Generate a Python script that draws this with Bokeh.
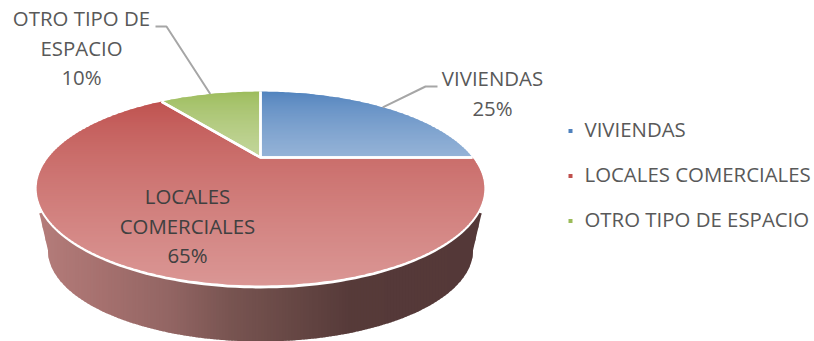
import math
from bokeh.plotting import figure
from bokeh.core.properties import value
from bokeh.embed import file_html
from bokeh.resources import INLINE

categories = ["VIVIENDAS", "LOCALES COMERCIALES", "OTRO TIPO DE ESPACIO"]
shares = [25, 65, 10]
label_lines = [["VIVIENDAS", "25%"], ["LOCALES", "COMERCIALES", "65%"], ["OTRO TIPO DE", "ESPACIO", "10%"]]
label_centers = [(492, 77.5), (187, 195.5), (81, 17.5)]
line_gap = 29.5
top_colors = [(79, 129, 189), (190, 79, 76), (155, 187, 89)]
bottom_colors = [(149, 179, 215), (218, 150, 148), (195, 214, 155)]
legend_colors = ["#4F81BD", "#C0504D", "#9BBB59"]
legend_y = [128.5, 173.5, 218.5]
marker_y = [130.5, 175.5, 220.5]
side_stops = [(39, (180, 124, 122)), (100, (166, 113, 111)), (170, (146, 101, 99)), (230, (120, 84, 81)),
              (280, (106, 74, 71)), (350, (86, 58, 57)), (480, (84, 56, 56))]
FONT = "Open Sans"
TEXT_SIZE = "20.4px"

# perspective projection of the pie disc on to the page
CX, CY, RU, AV, K = 260.0, 157.0, 212.0, 87.0, -0.32


def project(u, v):
    w = 1 + K * v
    return CX + RU * u / w, CY + AV * v / w


def rim(a0, a1, n):
    """Angles clockwise from 12 o'clock, degrees."""
    pts = []
    for i in range(n + 1):
        a = math.radians(a0 + (a1 - a0) * i / n)
        pts.append(project(math.sin(a), -math.cos(a)))
    return pts


def clip(poly, axis, lo, hi):
    def cut(pts, keep, bound):
        out = []
        for i, p in enumerate(pts):
            q = pts[(i + 1) % len(pts)]
            kp, kq = keep(p[axis]), keep(q[axis])
            if kp:
                out.append(p)
            if kp != kq:
                t = (bound - p[axis]) / (q[axis] - p[axis])
                out.append((p[0] + t * (q[0] - p[0]), p[1] + t * (q[1] - p[1])))
        return out
    r = cut(poly, lambda c: c >= lo, lo)
    return cut(r, lambda c: c <= hi, hi) if r else r


def mix(c0, c1, t):
    t = max(0.0, min(1.0, t))
    return "#%02x%02x%02x" % tuple(int(round(a + (b - a) * t)) for a, b in zip(c0, c1))


p = figure(width=814, height=341, x_range=(0, 814), y_range=(341, 0), output_backend="svg",
           toolbar_location=None, min_border=0, outline_line_color=None, background_fill_color="white")
p.styles = {"position": "absolute", "top": "0px", "left": "0px"}
p.axis.visible = False
p.grid.visible = False

# side wall
DEPTH_CY, DEPTH_RX, DEPTH_RY = 250.0, 212.5, 91.0
upper = [pt for pt in rim(90, 270, 240) if pt[1] >= 211]
lower = []
for i in range(121):
    a = math.pi * i / 120
    lower.append((CX + DEPTH_RX * math.cos(a), DEPTH_CY + DEPTH_RY * math.sin(a)))
wall = [(39, 213)] + upper[::-1] + [(481, 213)] + lower


def side_color(x):
    for (x0, c0), (x1, c1) in zip(side_stops, side_stops[1:]):
        if x <= x1:
            return mix(c0, c1, (x - x0) / (x1 - x0))
    return mix(side_stops[-1][1], side_stops[-1][1], 0)


xs, ys, cs = [], [], []
xx = 36
while xx < 486:
    part = clip(wall, 0, xx, xx + 4)
    if part:
        xs.append([q[0] for q in part]); ys.append([q[1] for q in part]); cs.append(side_color(xx + 1.5))
    xx += 3
p.patches(xs, ys, fill_color=cs, line_color=None)

# white rim that separates top and wall
outer = rim(0, 360, 240)
p.patch([CX + (q[0] - CX) * (1 + 2 / 224) for q in outer], [188 + (q[1] - 188) * (1 + 3 / 97) for q in outer],
        fill_color="white", line_color=None)

# top face, slice by slice
start = 0.0
total = sum(shares)
outlines = []
mids = []
for share, c0, c1 in zip(shares, top_colors, bottom_colors):
    sweep = 360.0 * share / total
    poly = [project(0, 0)] + rim(start, start + sweep, max(12, int(sweep)))
    mids.append(start + sweep / 2)
    y0 = min(q[1] for q in poly)
    y1 = max(q[1] for q in poly)
    xs, ys, cs = [], [], []
    yy = y0
    while yy < y1:
        part = clip(poly, 1, yy, yy + 3)
        if part:
            xs.append([q[0] for q in part]); ys.append([q[1] for q in part])
            cs.append(mix(c0, c1, ((yy + 1 - y0) / (y1 - y0)) ** 0.7))
        yy += 2
    p.patches(xs, ys, fill_color=cs, line_color=None)
    outlines.append(poly)
    start += sweep

for poly in outlines:
    p.line([poly[1][0], poly[0][0], poly[-1][0]], [poly[1][1], poly[0][1], poly[-1][1]],
           line_color="white", line_width=2.5)

# leader lines: from the middle of the slice's rim to the label elbow
leader_elbows = {0: [(425, 86), (437, 86)], 2: [(166, 26), (155, 26)]}
for idx, elbow in leader_elbows.items():
    a = math.radians(mids[idx])
    sx, sy = project(math.sin(a), -math.cos(a))
    p.line([sx] + [e[0] for e in elbow], [sy] + [e[1] for e in elbow], line_color="#A6A6A6", line_width=2)

# data labels
tx, ty, tt, tc = [], [], [], []
for idx, (lines, (cx, cy)) in enumerate(zip(label_lines, label_centers)):
    for j, s in enumerate(lines):
        tx.append(cx); ty.append(cy + j * line_gap); tt.append(s)
        tc.append("#404040" if idx == 1 else "#595959")
p.text(tx, ty, text=tt, text_color=tc, text_font=value(FONT), text_font_size=value(TEXT_SIZE),
       text_align="center", text_baseline="middle")

# legend
p.scatter([570] * 3, marker_y, marker="square", size=4, fill_color=legend_colors, line_color=None)
p.text([584] * 3, legend_y, text=categories, text_color="#595959", text_font=value(FONT),
       text_font_size=value(TEXT_SIZE), text_align="left", text_baseline="middle")

open("out.html", "w").write(file_html(p, INLINE))
